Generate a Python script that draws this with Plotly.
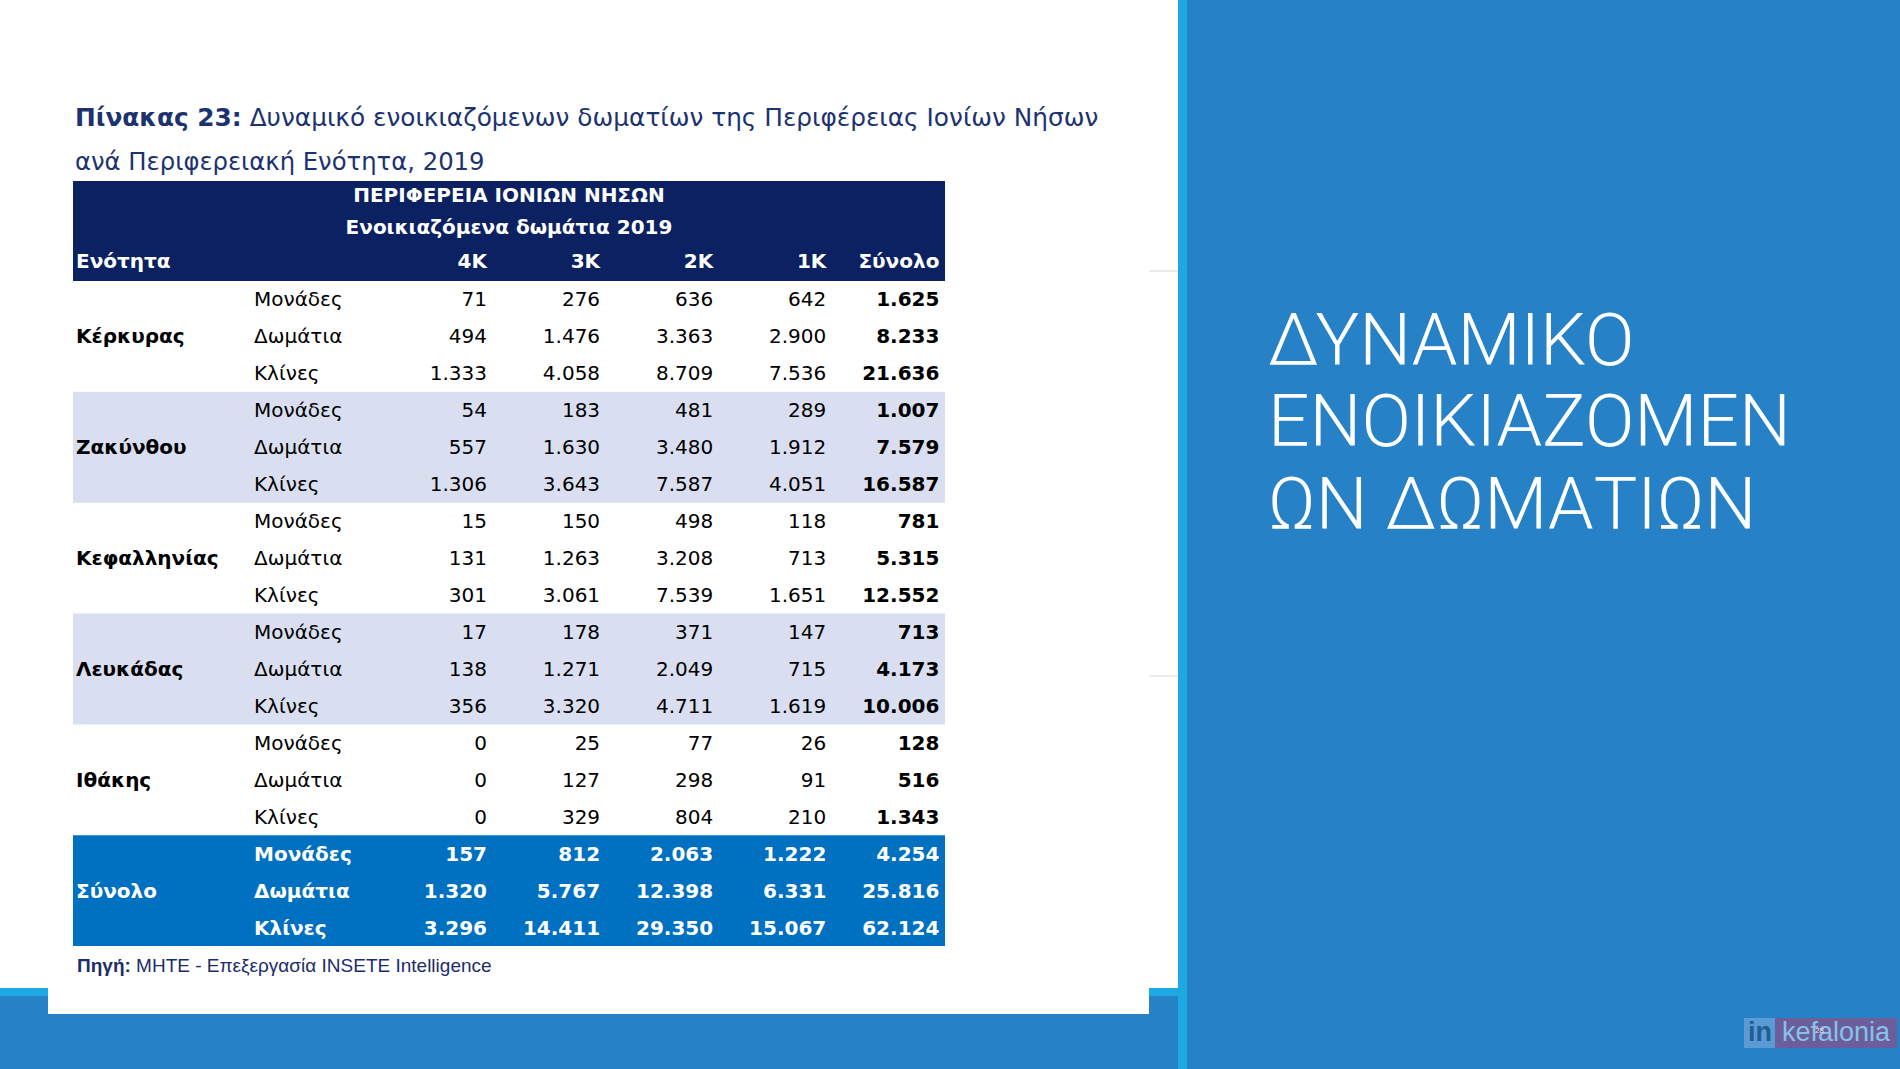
import plotly.graph_objects as go

# ---------------- data ----------------
regions = ["Κέρκυρας", "Ζακύνθου", "Κεφαλληνίας", "Λευκάδας", "Ιθάκης", "Σύνολο"]
measures = ["Μονάδες", "Δωμάτια", "Κλίνες"]
columns = ["4K", "3K", "2K", "1K", "Σύνολο"]

kerkyra = [[71, 276, 636, 642, 1625],
           [494, 1476, 3363, 2900, 8233],
           [1333, 4058, 8709, 7536, 21636]]
zakynthos = [[54, 183, 481, 289, 1007],
             [557, 1630, 3480, 1912, 7579],
             [1306, 3643, 7587, 4051, 16587]]
kefallinia = [[15, 150, 498, 118, 781],
              [131, 1263, 3208, 713, 5315],
              [301, 3061, 7539, 1651, 12552]]
lefkada = [[17, 178, 371, 147, 713],
           [138, 1271, 2049, 715, 4173],
           [356, 3320, 4711, 1619, 10006]]
ithaki = [[0, 25, 77, 26, 128],
          [0, 127, 298, 91, 516],
          [0, 329, 804, 210, 1343]]
total = [[157, 812, 2063, 1222, 4254],
         [1320, 5767, 12398, 6331, 25816],
         [3296, 14411, 29350, 15067, 62124]]

blocks = [kerkyra, zakynthos, kefallinia, lefkada, ithaki, total]

title_bold = "Πίνακας 23:"
title_line1 = " Δυναμικό ενοικιαζόμενων δωματίων της Περιφέρειας Ιονίων Νήσων"
title_line2 = "ανά Περιφερειακή Ενότητα, 2019"
header_line1 = "ΠΕΡΙΦΕΡΕΙΑ ΙΟΝΙΩΝ ΝΗΣΩΝ"
header_line2 = "Ενοικιαζόμενα δωμάτια 2019"
header_first = "Ενότητα"
source_bold = "Πηγή:"
source_text = " ΜΗΤΕ - Επεξεργασία INSETE Intelligence"
panel_lines = ["ΔΥΝΑΜΙΚΟ", "ΕΝΟΙΚΙΑΖΟΜΕΝ", "ΩΝ ΔΩΜΑΤΙΩΝ"]
page_number = "28"

# ---------------- layout / style constants ----------------
W, H = 1900, 1069
TABLE_L, TABLE_R = 73, 945
HEAD_T, BODY_T = 181, 281
ROW_H = 36.95
GROUP_X, MEASURE_X = 76, 254
NUM_RIGHT0, NUM_STEP = 487, 113.1
HEAD_Y = [197, 229, 263]
PANEL_Y = [340, 421, 504]
BODY_FONT = "DejaVu Sans"
FS = 20
NAVY = "#0B2162"
LAVENDER = "#D9DFF1"
TOTAL_BLUE = "#0070C0"
PANEL_BLUE = "#2681C6"
STRIPE_BLUE = "#1EA9E2"
TITLE_COLOR = "#1C3370"
SHADED_BLOCKS = [1, 3]
TOTAL_BLOCK = 5


def fmt(v):
    return f"{v:,}".replace(",", ".")


def row_center(r):
    return BODY_T + ROW_H * (r + 0.5) + 2


def rect(x0, x1, y0, y1, color):
    return dict(type="rect", x0=x0, x1=x1, y0=y0, y1=y1, fillcolor=color,
                line_width=0, layer="below")


fig = go.Figure()

shapes = []
# page background pieces
shapes.append(rect(0, 1178, 996, H, PANEL_BLUE))
shapes.append(rect(0, 1178, 988, 996, STRIPE_BLUE))
shapes.append(rect(48, 1149, 0, 1014, "white"))
shapes.append(rect(1187, W, 0, H, PANEL_BLUE))
shapes.append(rect(1178, 1187, 0, H, STRIPE_BLUE))
for gy in (271, 676):
    shapes.append(dict(type="line", x0=1149, x1=1178, y0=gy, y1=gy, layer="below",
                       line=dict(color="#D6D6D6", width=1)))

# table bands
shapes.append(rect(TABLE_L, TABLE_R, HEAD_T, BODY_T, NAVY))
for b in range(len(blocks)):
    fill = None
    if b in SHADED_BLOCKS:
        fill = LAVENDER
    elif b == TOTAL_BLOCK:
        fill = TOTAL_BLUE
    if fill:
        shapes.append(rect(TABLE_L, TABLE_R, BODY_T + ROW_H * 3 * b,
                           BODY_T + ROW_H * 3 * (b + 1), fill))

# logo boxes
shapes.append(rect(1744, 1775, 1018, 1048, "#5A9BD3"))
shapes.append(rect(1775, 1897, 1018, 1048, "#6B5E9A"))

# ---------------- table cells as text marks ----------------
hide = dict(hoverinfo="skip", showlegend=False, cliponaxis=False)

gx, gy, gt, gc = [], [], [], []
mx, my, mt, mc = [], [], [], []
for b, name in enumerate(regions):
    is_total = b == TOTAL_BLOCK
    gx.append(GROUP_X)
    gy.append(row_center(3 * b + 1))
    gt.append(f"<b>{name}</b>")
    gc.append("white" if is_total else "black")
    for m, meas in enumerate(measures):
        mx.append(MEASURE_X)
        my.append(row_center(3 * b + m))
        mt.append(f"<b>{meas}</b>" if is_total else meas)
        mc.append("white" if is_total else "black")

fig.add_trace(go.Scatter(x=gx, y=gy, text=gt, mode="text", textposition="middle right",
                         textfont=dict(family=BODY_FONT, size=FS, color=gc), **hide))
fig.add_trace(go.Scatter(x=mx, y=my, text=mt, mode="text", textposition="middle right",
                         textfont=dict(family=BODY_FONT, size=FS, color=mc), **hide))

for c, col in enumerate(columns):
    xs, ys, ts, cs = [], [], [], []
    for b, block in enumerate(blocks):
        is_total = b == TOTAL_BLOCK
        for m in range(len(measures)):
            xs.append(NUM_RIGHT0 + NUM_STEP * c)
            ys.append(row_center(3 * b + m))
            s = fmt(block[m][c])
            bold = is_total or c == len(columns) - 1
            ts.append(f"<b>{s}</b>" if bold else s)
            cs.append("white" if is_total else "black")
    fig.add_trace(go.Scatter(x=xs, y=ys, text=ts, mode="text", textposition="middle left",
                             textfont=dict(family=BODY_FONT, size=FS, color=cs), **hide))

# column headers
fig.add_trace(go.Scatter(x=[NUM_RIGHT0 + NUM_STEP * c for c in range(len(columns))],
                         y=[HEAD_Y[2]] * len(columns),
                         text=[f"<b>{c}</b>" for c in columns], mode="text",
                         textposition="middle left",
                         textfont=dict(family=BODY_FONT, size=FS, color="white"), **hide))
fig.add_trace(go.Scatter(x=[GROUP_X], y=[HEAD_Y[2]], text=[f"<b>{header_first}</b>"], mode="text",
                         textposition="middle right",
                         textfont=dict(family=BODY_FONT, size=FS, color="white"), **hide))
mid = (TABLE_L + TABLE_R) / 2
fig.add_trace(go.Scatter(x=[mid, mid], y=HEAD_Y[:2],
                         text=[f"<b>{header_line1}</b>", f"<b>{header_line2}</b>"], mode="text",
                         textposition="middle center",
                         textfont=dict(family=BODY_FONT, size=FS, color="white"), **hide))

# ---------------- annotations (titles, source, side panel, logo) ----------------
ann = []
ann.append(dict(x=73, y=117, xref="x", yref="y", xanchor="left", yanchor="middle", showarrow=False,
                text=f"<b>{title_bold}</b>{title_line1}",
                font=dict(family=BODY_FONT, size=24.8, color=TITLE_COLOR)))
ann.append(dict(x=73, y=161, xref="x", yref="y", xanchor="left", yanchor="middle", showarrow=False,
                text=title_line2, font=dict(family=BODY_FONT, size=24.3, color=TITLE_COLOR)))
ann.append(dict(x=75, y=965, xref="x", yref="y", xanchor="left", yanchor="middle", showarrow=False,
                text=f"<b>{source_bold}</b>{source_text}",
                font=dict(family="Liberation Sans", size=19, color="#1C2D6B")))
for i, line in enumerate(panel_lines):
    ann.append(dict(x=1266, y=PANEL_Y[i], xref="x", yref="y", xanchor="left", yanchor="middle",
                    showarrow=False, text=line,
                    font=dict(family="Roboto", size=73, weight=300, color="white")))
ann.append(dict(x=1759.5, y=1032, xref="x", yref="y", xanchor="center", yanchor="middle", showarrow=False,
                text="<b>in</b>", font=dict(family="Liberation Sans", size=27, color="#225E93")))
ann.append(dict(x=1836, y=1032, xref="x", yref="y", xanchor="center", yanchor="middle", showarrow=False,
                text="kefalonia", font=dict(family="Liberation Sans", size=27, color="#86C2EA")))
ann.append(dict(x=1819, y=1030, xref="x", yref="y", xanchor="center", yanchor="middle", showarrow=False,
                text=page_number, font=dict(family="Liberation Sans", size=8, color="#F4DDE6")))

fig.update_layout(
    width=W, height=H,
    margin=dict(l=0, r=0, t=0, b=0),
    paper_bgcolor="white", plot_bgcolor="white",
    xaxis=dict(range=[0, W], visible=False, fixedrange=True),
    yaxis=dict(range=[H, 0], visible=False, fixedrange=True),
    shapes=shapes, annotations=ann, showlegend=False,
)

fig.write_html("out.html", config={"displayModeBar": False},
               post_script="document.body.style.margin='0';document.body.style.overflow='hidden';")
